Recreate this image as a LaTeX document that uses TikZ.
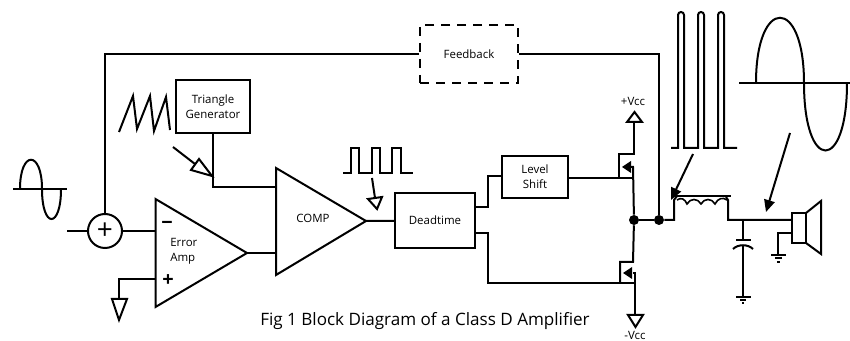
\documentclass[tikz,border=0pt]{standalone}
\usepackage{fontspec}
\setmainfont{Open Sans}
\usepackage{tikz}
\usetikzlibrary{arrows.meta, positioning, calc}

\begin{document}
\begin{tikzpicture}[x=0.75pt, y=-0.75pt,
      wire/.style={line width=1.5pt, line join=miter},
      box/.style={draw, line width=1.5pt, inner sep=0pt, font=\fontsize{8.6}{11.25}\selectfont, align=center},
      lbl/.style={inner sep=0pt, font=\fontsize{8.6}{11.25}\selectfont, align=center},
      sign/.style={inner sep=0pt, font=\fontsize{15}{15}\selectfont\bfseries},
      dot/.style={circle, fill=black, inner sep=0pt, minimum size=7.5pt},
      hollowarr/.style={wire, fill=white},
      arr/.style={-{Triangle[length=9pt, width=8pt]}, line width=1.5pt}
    ]
      \useasboundingbox (0,0) rectangle (850,341);

      % blocks
      \node[box, dash pattern=on 7pt off 5pt, minimum width=73.5pt, minimum height=43.5pt] (fb) at (469,54) {Feedback};
      \node[box, minimum width=55.5pt, minimum height=40pt] (trig) at (213,106.5) {Triangle\\Generator};
      \node[box, minimum width=60pt, minimum height=41pt] (dead) at (435,220.5) {Deadtime};
      \node[box, minimum width=49.5pt, minimum height=31.5pt] (lvl) at (535,177) {Level\\Shift};
      \node[circle, draw, line width=1.5pt, minimum size=25.5pt, inner sep=0pt] (sum) at (105,231) {};
      \node[inner sep=0pt, font=\fontsize{21}{21}\selectfont] (plus) at (105,231) {+};

      % amplifiers
      \coordinate (eaout) at (247,253);
      \coordinate (cmpout) at (366,221);
      \draw[wire] (155.5,199) -- (155.5,307) -- (eaout) -- cycle;
      \draw[wire] (276,168) -- (276,275) -- (cmpout) -- cycle;
      \node[lbl, align=flush left, anchor=west] (ealbl) at (170,251.5) {Error\\Amp};
      \node[lbl] (cmplbl) at (313,218) {COMP};
      \node[sign] (minus) at (167,225) {\textminus};
      \node[sign] (pl) at (168,281) {+};

      % transistor nodes
      \node[dot] (sw) at (634,220) {};
      \node[dot] (out) at (659,220) {};
      \node[lbl] (vp) at (633,101) {+Vcc};
      \node[lbl] (vn) at (635,335.5) {-Vcc};

      % wiring
      \coordinate (inl) at (67,231);
      \draw[wire] (inl) -- (sum);
      \draw[wire] (sum) -- (155.5,231);
      \draw[wire] (sum) -- (105,54) -- (fb);
      \draw[wire] (fb) -- (659,54) -- (out);
      \draw[wire] (trig) -- (213,187) -- (276,187);
      \draw[wire] (eaout) -- (276,253);
      \draw[wire] (cmpout) -- (dead);
      \draw[wire] (475,207) -- (488,207) -- (488,176) -- (502,176);
      \draw[wire] (475,233) -- (488,233) -- (488,283) -- (636,283);
      \draw[wire] (568,178) -- (633,178);
      \draw[wire] (155.5,279) -- (119,279) -- (119,299);
      \draw[wire] (112,299) -- (127,299) -- (119,320) -- cycle;

      % pmos
      \draw[wire] (634,122) -- (634,154) -- (619,154) -- (619,178);
      \draw[wire] (627,122) -- (642,122) -- (634.5,112) -- cycle;
      \draw[wire] (631,167) -- (633,167) -- (sw);
      \fill (622,167) -- (631,161) -- (631,173) -- cycle;
      % nmos
      \draw[wire] (sw) -- (633,262) -- (620,262) -- (620,283);
      \draw[wire] (633,273) -- (635,273) -- (635,315);
      \fill (623,273) -- (632,267) -- (632,279) -- cycle;
      \draw[wire] (628,315) -- (643,315) -- (635.5,327) -- cycle;

      % inductor
      \draw[wire] (sw) -- (out);
      \draw[wire] (out) -- (674,220) -- (674,200) -- (677,196);
      \draw[line width=1.1pt] (675,196) -- (731,196);
      \draw[wire] (726,197) -- (728,200) -- (728,220) -- (792,220);
      \draw[line width=1.2pt] (677,200) .. controls (681,197) and (685,199) .. (687,204)
        .. controls (690,198) and (698,198) .. (701,204)
        .. controls (704,198) and (712,198) .. (715,204)
        .. controls (718,198) and (723,197) .. (727,200);

      % capacitor
      \draw[wire] (743,220) -- (743,240);
      \draw[wire] (736,240) -- (751,240);
      \draw[wire] (733,249) .. controls (738,244) and (748,244) .. (753,249);
      \draw[wire] (743,246) -- (743,297);
      \draw[wire] (736,297) -- (751,297);
      \draw[wire] (740,300.5) -- (746,300.5);
      \draw[wire] (742,303.5) -- (744,303.5);

      % speaker
      \draw[wire] (792,213) rectangle (806,243);
      \draw[wire] (806,213) -- (821,201) -- (821,254) -- (806,243);
      \draw[wire] (792,233) -- (778,233) -- (778,255);
      \draw[wire] (771,255) -- (786,255);
      \draw[wire] (775,258.5) -- (782,258.5);
      \draw[wire] (777,262) -- (780,262);

      % waveforms
      \draw[wire] (13,189) -- (67,189);
      \draw[wire] (20,189) .. controls (20,150) and (42,150) .. (42,189)
        .. controls (42,229) and (61,229) .. (61,189);
      \draw[wire] (119,132) -- (133,96) -- (137,129) -- (150,96) -- (154,131) -- (166,97) -- (170,130);
      \draw[wire] (343,173) -- (351,173) -- (351,148) -- (359,148) -- (359,173) -- (372,173)
        -- (372,148) -- (380,148) -- (380,173) -- (392,173) -- (392,148) -- (401,148) -- (401,173) -- (413,173);
      \draw[wire] (671,148) -- (678,148) -- (678,15) arc (180:360:3) -- (684,148) -- (698,148)
        -- (698,15) arc (180:360:3) -- (704,148) -- (718,148) -- (718,15) arc (180:360:3) -- (724,148) -- (737,148);
      \draw[wire] (739,83) -- (850,83);
      \draw[wire] (756,83) .. controls (756,-4) and (804,-4) .. (804,83)
        .. controls (804,173) and (847,173) .. (847,83);

      % arrows
      \draw[wire] (173,147) -- (195,164);
      \draw[hollowarr] (212,176) -- (199,159) -- (191,170) -- cycle;
      \draw[wire] (372,178) -- (375,198);
      \draw[hollowarr] (377,209) -- (368,199) -- (382,197) -- cycle;
      \draw[arr] (693,154) -- (671,200);
      \draw[arr] (790,133) -- (766,212);

      \node[lbl, font=\fontsize{12.8}{15}\selectfont] (cap) at (425,321) {Fig 1 Block Diagram of a Class D Amplifier};
    \end{tikzpicture}
\end{document}
